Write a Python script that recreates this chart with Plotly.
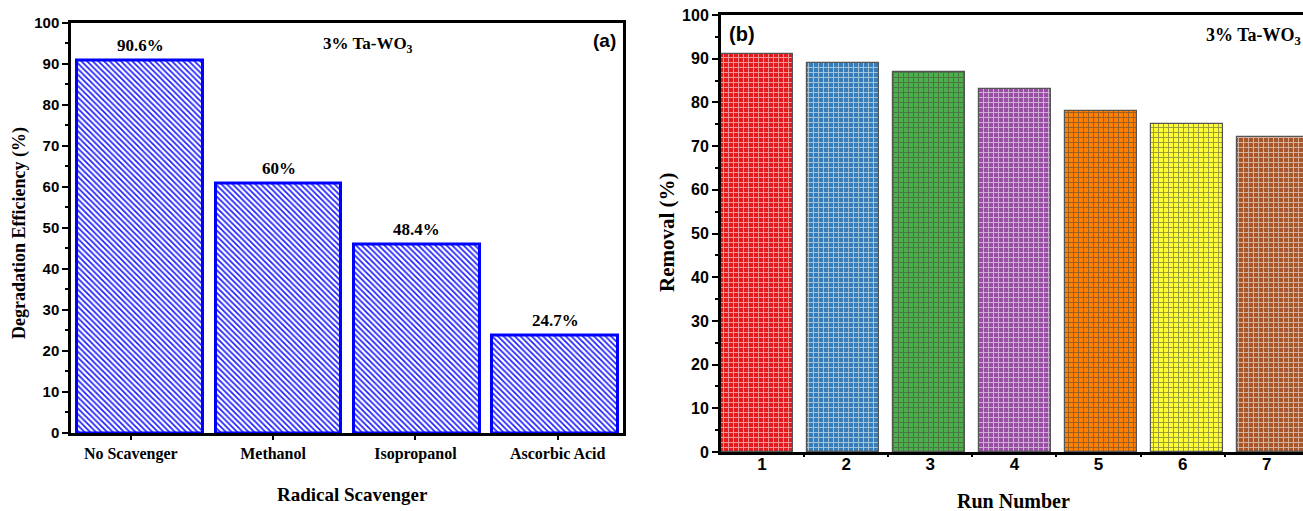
import plotly.graph_objects as go

# ---------------- data ----------------
scavengers = ["No Scavenger", "Methanol", "Isopropanol", "Ascorbic Acid"]
efficiency = [90.8, 60.8, 46.0, 23.8]          # bar heights as drawn
efficiency_labels = ["90.6%", "60%", "48.4%", "24.7%"]

runs = [1, 2, 3, 4, 5, 6, 7]
removal = [91.0, 89.0, 87.0, 83.0, 78.0, 75.0, 72.0]
run_colors = ["#e41a1c", "#377eb8", "#4daf4a", "#984ea3", "#ff7f00", "#ffff33", "#a65628"]

sample_label = "3% Ta-WO<sub>3</sub>"

W, H = 1303, 511
SERIF = "Liberation Serif, Times New Roman, serif"
SANS = "Liberation Sans, Arial, sans-serif"


def px_x(p):
    return p / W


def px_y(p):
    return 1 - p / H


fig = go.Figure()

# ---------------- panel (a) ----------------
fig.add_trace(go.Bar(
    x=scavengers, y=efficiency, xaxis="x", yaxis="y", width=0.91,
    marker=dict(color="white",
                line=dict(color="#0000ff", width=3),
                pattern=dict(shape="\\", fgcolor="#1a1aff", bgcolor="white",
                             size=4, solidity=0.4, fillmode="replace")),
    showlegend=False, hoverinfo="skip"))
# invisible carrier for the tick axis
fig.add_trace(go.Scatter(x=scavengers, y=efficiency, xaxis="x3", yaxis="y",
                         mode="markers", marker=dict(opacity=0),
                         showlegend=False, hoverinfo="skip"))

# ---------------- panel (b) ----------------
fig.add_trace(go.Bar(
    x=runs, y=removal, xaxis="x2", yaxis="y2", width=0.837,
    marker=dict(color=run_colors,
                line=dict(color="#555555", width=1.2),
                pattern=dict(shape="+", fgcolor="#2a2a2a", fgopacity=0.55,
                             size=5, solidity=0.35, fillmode="overlay")),
    showlegend=False, hoverinfo="skip"))
fig.add_trace(go.Scatter(x=runs, y=removal, xaxis="x4", yaxis="y2",
                         mode="markers", marker=dict(opacity=0),
                         showlegend=False, hoverinfo="skip"))

tickfont_a = dict(family=SANS, size=15, color="black", weight="bold")
tickfont_b = dict(family=SANS, size=16, color="black", weight="bold")
tickfont_bx = dict(family=SANS, size=17, color="black", weight="bold")

dom_a = [px_x(71), px_x(623)]
dom_b = [px_x(721), 1.0]

fig.update_layout(
    width=W, height=H, margin=dict(l=0, r=0, t=0, b=0, autoexpand=False),
    paper_bgcolor="white", plot_bgcolor="white", bargap=0,
    xaxis=dict(domain=dom_a, anchor="y", type="category", range=[-0.5, 3.49],
               automargin=False,
               showticklabels=False, ticks="", showgrid=False, zeroline=False,
               showline=True, linecolor="black", linewidth=2.5, mirror=True),
    xaxis3=dict(overlaying="x", anchor="y", type="category", range=[-0.42, 3.459],
                automargin=False,
                showticklabels=True, ticks="outside", ticklen=6, tickwidth=2,
                tickcolor="black", showgrid=False, zeroline=False, showline=False,
                tickfont=dict(family=SERIF, size=16, color="black", weight="bold")),
    yaxis=dict(domain=[px_y(433), px_y(22.5)], anchor="x", range=[0, 100],
               automargin=False,
               tick0=0, dtick=10, ticks="outside", ticklen=6, tickwidth=2,
               tickcolor="black", tickfont=tickfont_a,
               minor=dict(ticks="outside", dtick=5, ticklen=3, tickwidth=2, tickcolor="black"),
               showgrid=False, zeroline=False,
               showline=True, linecolor="black", linewidth=2.5, mirror=True),
    xaxis2=dict(domain=dom_b, anchor="y2", range=[0.581, 7.349],
                automargin=False,
                showticklabels=False, ticks="", showgrid=False, zeroline=False,
                showline=True, linecolor="black", linewidth=3, mirror=True),
    xaxis4=dict(overlaying="x2", anchor="y2", range=[0.513, 7.43],
                automargin=False,
                tickvals=runs, ticktext=[str(r) for r in runs],
                ticks="", showticklabels=True, tickfont=tickfont_bx,
                minor=dict(ticks="outside", tick0=0.5, dtick=1, ticklen=4,
                           tickwidth=2, tickcolor="black"),
                showgrid=False, zeroline=False, showline=False),
    yaxis2=dict(domain=[px_y(452), px_y(15)], anchor="x2", range=[0, 100],
                automargin=False,
                tick0=0, dtick=10, ticks="outside", ticklen=6, tickwidth=2,
                tickcolor="black", tickfont=tickfont_b,
                minor=dict(ticks="outside", dtick=5, ticklen=3, tickwidth=2, tickcolor="black"),
                showgrid=False, zeroline=False,
                showline=True, linecolor="black", linewidth=3, mirror=False),
)

ann = []
# bar value labels (a)
for cat, val, lab in zip(scavengers, efficiency, efficiency_labels):
    ann.append(dict(x=cat, y=val, xref="x", yref="y", text=lab, showarrow=False,
                    yanchor="bottom", yshift=3,
                    font=dict(family=SERIF, size=17, color="black", weight="bold")))

# panel labels / sample labels
ann += [
    dict(x=px_x(618), y=px_y(40), xref="paper", yref="paper", text="(a)",
         showarrow=False, xanchor="right", yanchor="middle",
         font=dict(family=SANS, size=19, color="black", weight="bold")),
    dict(x=px_x(321), y=px_y(45), xref="paper", yref="paper", text=sample_label,
         showarrow=False, xanchor="left", yanchor="middle",
         font=dict(family=SERIF, size=17, color="black", weight="bold")),
    dict(x=px_x(727), y=px_y(34), xref="paper", yref="paper", text="(b)",
         showarrow=False, xanchor="left", yanchor="middle",
         font=dict(family=SANS, size=20, color="black", weight="bold")),
    dict(x=px_x(1204), y=px_y(37), xref="paper", yref="paper", text=sample_label,
         showarrow=False, xanchor="left", yanchor="middle",
         font=dict(family=SERIF, size=18, color="black", weight="bold")),
    # axis titles
    dict(x=px_x(20), y=px_y(233), xref="paper", yref="paper",
         text="Degradation Efficiency (%)", textangle=-90, showarrow=False,
         xanchor="center", yanchor="middle",
         font=dict(family=SERIF, size=18, color="black", weight="bold")),
    dict(x=px_x(352), y=px_y(494), xref="paper", yref="paper",
         text="Radical Scavenger", showarrow=False,
         xanchor="center", yanchor="middle",
         font=dict(family=SERIF, size=19, color="black", weight="bold")),
    dict(x=px_x(667), y=px_y(232), xref="paper", yref="paper",
         text="Removal (%)", textangle=-90, showarrow=False,
         xanchor="center", yanchor="middle",
         font=dict(family=SERIF, size=21, color="black", weight="bold")),
    dict(x=px_x(1014), y=px_y(501), xref="paper", yref="paper",
         text="Run Number", showarrow=False,
         xanchor="center", yanchor="middle",
         font=dict(family=SERIF, size=20, color="black", weight="bold")),
]
fig.update_layout(annotations=ann)

fig.write_html("out.html")
